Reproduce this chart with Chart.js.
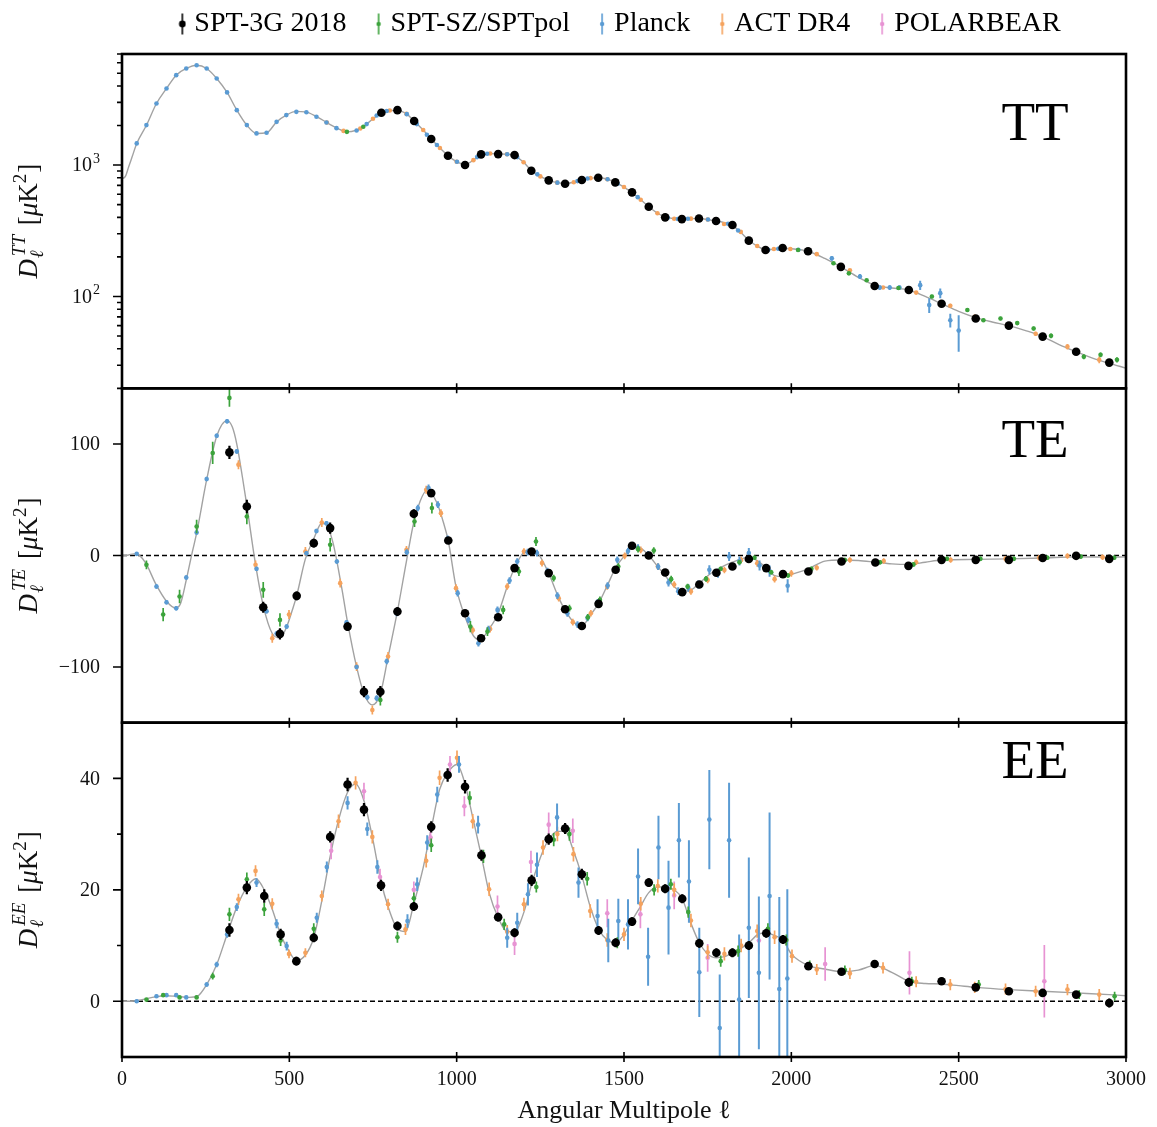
<!DOCTYPE html>
<html lang="en">
<head>
<meta charset="utf-8">
<title>CMB power spectra: TT, TE, EE</title>
<script src="https://cdn.jsdelivr.net/npm/chart.js@4.4.1/dist/chart.umd.min.js"></script>
<style>
  html, body { margin: 0; padding: 0; background: #ffffff; }
  #plot { display: block; }
</style>
</head>
<body>
<canvas id="plot" width="1157" height="1127"></canvas>
<script>
const SERIF = '"Liberation Serif", "Times New Roman", serif';

// ---------------- axes ----------------
const ellRange = [0, 3000];
const ellTicks = [0, 500, 1000, 1500, 2000, 2500, 3000];

const ttRange = [20, 7000];
const ttMajorTicks = [100, 1000];
const ttMinorTicks = [20, 30, 40, 50, 60, 70, 80, 90, 200, 300, 400, 500, 600, 700, 800, 900,
                      2000, 3000, 4000, 5000, 6000, 7000];
const ttTickLabels = {100: ['10', '2'], 1000: ['10', '3']};

const teRange = [-150, 150];
const teMajorTicks = [-100, 0, 100];
const teMinorTicks = [];

const eeRange = [-10, 50];
const eeMajorTicks = [0, 20, 40];
const eeMinorTicks = [10, 30];

// ---------------- best-fit model curves [ell, D_ell] ----------------
const theoryTT = [
  [2,790],[10,820],[20,970],[30,1150],[44,1460],[73,2010],[103,2940],[133,3830],[162,4830],[192,5430],
  [223,5750],[253,5430],[283,4560],[314,3570],[343,2620],[373,2010],[402,1740],[432,1760],[462,2130],
  [491,2400],[521,2560],[548,2540],[580,2350],[620,2050],[650,1870],[672,1790],[700,1840],[721,1955],
  [750,2250],[775,2480],[800,2600],[823,2600],[850,2450],[873,2160],[900,1850],[924,1580],[950,1350],
  [974,1180],[1000,1060],[1025,1010],[1050,1090],[1073,1190],[1100,1225],[1124,1215],[1150,1210],
  [1173,1180],[1200,1050],[1223,910],[1250,820],[1275,765],[1300,735],[1324,725],[1350,740],[1374,769],
  [1400,795],[1423,800],[1450,780],[1474,738],[1500,680],[1524,615],[1550,545],[1574,482],[1600,430],
  [1623,403],[1650,390],[1673,388],[1700,391],[1724,392],[1750,385],[1775,375],[1800,365],[1824,348],
  [1850,305],[1873,268],[1900,240],[1923,228],[1950,229],[1974,233],[2000,231],[2050,221],[2100,195],
  [2148,168],[2200,140],[2249,122],[2300,116],[2351,112],[2400,100],[2449,88],[2500,77],[2551,69],
  [2600,64],[2650,60],[2700,55],[2751,49.5],[2800,43],[2851,38],[2900,34],[2950,31],[3000,28.5]
];
const theoryTE = [
  [2,0],[20,0.5],[35,1.5],[50,0.5],[73,-8],[100,-25],[133,-41],[160,-47],[175,-43],[192,-22],[210,3],
  [223,20],[253,68],[283,107],[314,121],[330,115],[343,100],[360,70],[373,45],[399,-8],[422,-45],
  [449,-70],[472,-74],[492,-64],[510,-48],[522,-36],[548,-3],[573,15],[597,29],[612,27],[630,12],
  [642,-5],[660,-35],[674,-60],[701,-100],[723,-124],[748,-134],[772,-124],[795,-91],[823,-50],
  [850,-5],[872,30],[890,48],[909,58],[924,56],[944,45],[960,30],[975,13],[998,-28],[1025,-55],
  [1050,-72],[1070,-76],[1092,-68],[1124,-52],[1151,-28],[1173,-11],[1201,3],[1224,5],[1245,1],
  [1275,-16],[1305,-38],[1324,-49],[1350,-60],[1374,-63],[1401,-53],[1424,-43],[1450,-27],[1475,-11],
  [1502,0],[1524,7],[1545,7],[1574,0],[1601,-10],[1623,-18],[1650,-28],[1674,-32],[1700,-31],
  [1725,-25],[1755,-17],[1776,-13],[1800,-9],[1824,-6],[1850,-3],[1873,-1.5],[1900,-5],[1925,-11],
  [1950,-18],[1975,-19],[2000,-17],[2051,-12],[2100,-5],[2150,-4],[2200,-4.5],[2251,-6],[2300,-7.5],
  [2350,-8],[2400,-6],[2449,-4],[2551,-3.5],[2650,-3],[2751,-2.2],[2851,-1.2],[2950,-1.5],[3000,-1.2]
];
const theoryEE = [
  [2,0],[30,0],[60,0.3],[100,0.8],[130,1.0],[160,0.9],[200,0.7],[225,0.9],[253,3],[283,6.6],[314,12],
  [343,16.9],[373,20.5],[400,22],[425,20],[449,16.5],[474,12],[499,9],[521,7.3],[548,8.3],[573,11.4],
  [597,18],[622,26],[647,32.5],[674,37.5],[698,39],[723,36],[748,29.5],[774,21.5],[795,17],[823,13],
  [847,12.5],[872,17.5],[900,24],[924,31],[949,38],[973,41],[1001,42.5],[1025,39],[1048,33],[1074,26],
  [1097,19.5],[1124,15],[1151,12.5],[1173,12.5],[1201,16],[1224,21],[1258,27],[1275,29],[1300,30.5],
  [1324,30.5],[1349,27],[1374,22.5],[1399,17],[1424,13],[1450,11],[1475,10.5],[1500,12],[1524,14.5],
  [1549,17],[1574,19.5],[1601,20.5],[1623,20.5],[1650,20],[1674,18.4],[1700,14],[1725,10.5],[1750,8.5],
  [1776,7.8],[1800,8],[1824,8.7],[1850,9.5],[1873,10.5],[1900,12],[1925,12.3],[1950,11.8],[1975,11],
  [2000,8.5],[2051,6.4],[2100,5.8],[2150,5.3],[2200,5.6],[2249,6.4],[2300,5.2],[2351,3.6],[2400,3.2],
  [2449,3.1],[2500,2.8],[2551,2.5],[2650,2.1],[2751,1.8],[2851,1.5],[2950,1.2],[3000,1.0]
];

// ---------------- band powers [ell, D_ell, sigma] ----------------
const spt3gTT = [
  [775,2500,45],[823,2618,45],[873,2163,38],[924,1578,28],[974,1177,20],[1025,1000,17],[1073,1206,18],
  [1124,1212,17],[1173,1191,16],[1223,905,13],[1275,765,11],[1324,721,10],[1374,769,10],[1423,800,10],
  [1474,738,9],[1524,620,8],[1574,482,7],[1623,400,6],[1673,388,6],[1724,392,6],[1775,375,5],
  [1824,350,5],[1873,266,4],[1923,226,4],[1974,234,4],[2050,221,3],[2148,168,3],[2249,120,2],
  [2351,112,2],[2449,88,2],[2551,68,1.5],[2650,60,1.5],[2751,49.5,1.5],[2851,38,1.5],[2950,31.4,1.5]
];
const spt3gTE = [
  [321,92.5,6],[373,44,6],[422,-46.4,5],[472,-70.3,5],[522,-36.2,4],[573,11.1,4],[622,24.6,5],
  [674,-63.8,4],[723,-122.2,5],[772,-122.2,5],[823,-50.3,4],[872,37.5,4],[924,56,3],[975,13.5,3],
  [1025,-51.8,3],[1073,-74.2,3],[1124,-55.4,3],[1173,-11.3,2.5],[1224,3.6,2.5],[1275,-15.8,2.5],
  [1324,-48.2,2.5],[1374,-63.2,2.5],[1424,-43.4,2.5],[1475,-12.8,2],[1524,8.7,2],[1574,0,2],
  [1623,-15.3,2],[1674,-32.9,2],[1725,-26,2],[1776,-15.5,2],[1824,-9.9,2],[1873,-3.2,2],
  [1925,-11.3,2],[1975,-16.7,2],[2051,-14.4,1.5],[2150,-5.4,1.5],[2251,-6.3,1.5],[2350,-9.3,1.5],
  [2449,-3.9,1.5],[2551,-3.9,1.5],[2650,-3.9,1.5],[2751,-2.3,1.5],[2851,-0.3,1.5],[2950,-3,1.5]
];
const spt3gEE = [
  [321,12.8,1.2],[373,20.4,1.2],[425,18.9,1.2],[474,12,1],[521,7.2,0.8],[573,11.4,0.8],[622,29.5,1],
  [674,38.9,1.2],[723,34.4,1.2],[774,20.8,1],[823,13.5,0.8],[872,17,0.8],[924,31.3,1],[973,40.6,1.2],
  [1025,38.5,1.2],[1074,26.2,1],[1124,15.1,0.8],[1173,12.3,0.8],[1224,21.7,1],[1275,29.1,1],
  [1324,31,1],[1374,22.8,1],[1424,12.7,0.8],[1475,10.5,0.8],[1524,14.3,0.8],[1574,21.3,0.8],
  [1623,20.2,0.8],[1674,18.4,0.8],[1725,10.4,0.8],[1776,8.7,0.8],[1824,8.7,0.8],[1873,10,0.8],
  [1925,12.2,0.8],[1975,11.1,0.8],[2051,6.3,0.6],[2150,5.3,0.6],[2249,6.7,0.6],[2351,3.4,0.8],
  [2449,3.6,0.6],[2551,2.5,0.6],[2650,1.8,0.6],[2751,1.5,0.6],[2851,1.2,0.6],[2950,-0.3,0.8]
];

const sptpolTT = [
  [672,1790,28],[721,1955,28],[1022,1000,15],[1475,738,10],[1925,228,5],[2020,226,5],[2126,179,4],
  [2172,150,4],[2225,133,3],[2320,116,3],[2420,100,3],[2526,79,2.5],[2574,66,2],[2625,68,2],
  [2675,62.7,2],[2724,57,2],[2776,50.2,2],[2874,34.8,1.5],[2924,36,1.5],[2973,33,1.5]
];
const sptpolTE = [
  [73,-8.4,4],[123,-53,6],[172,-36.8,6],[223,26,6],[271,92,10],[321,141.4,8],[373,35,7],[422,-30.8,7],
  [472,-57.8,6],[622,9.6,6],[772,-129.6,5],[874,30.5,5],[926,42.6,5],[1041,-63.8,5],[1092,-68.3,4],
  [1139,-48.8,4],[1186,-14.4,4],[1237,12.6,4],[1290,-20.3,3],[1337,-47.3,3],[1392,-55.4,3],
  [1428,-39.8,3],[1483,-9.9,3],[1542,5.7,3],[1589,4.5,3],[1641,-21.2,3],[1690,-27.8,2.5],
  [1745,-21,2.5],[1789,-12,2],[1845,-6,2],[1890,-2,2],[1940,-15,2],[1990,-18,2],[2060,-12,2],
  [2160,-4,2],[2265,-6,2],[2365,-8,2],[2465,-3,2],[2565,-3,2],[2665,-3,2],[2765,-2,2],[2865,-1,2],
  [2965,-2,2]
];
const sptpolEE = [
  [73,0.3,0.3],[123,1.1,0.3],[172,0.7,0.3],[223,0.7,0.3],[271,4.5,0.6],[321,15.6,1.2],[373,21.9,1.2],
  [425,16.5,1.2],[474,10.9,1],[573,13,1],[823,11.5,1],[872,18.5,1],[924,28,1.2],[1039,36.5,1.2],
  [1080,26,1.2],[1142,13.8,1],[1238,20.5,1],[1290,29,1.2],[1337,30,1.2],[1390,22,1.2],[1480,10.5,1],
  [1590,20,1],[1640,21,1],[1692,16,1],[1789,7.2,1],[1841,9,1],[1930,13,1],[1985,11,1],[2055,6.5,0.8],
  [2160,5.6,0.8],[2360,3.6,0.8],[2560,3,0.8],[2860,1.2,0.8],[2966,0.9,0.8]
];

const planckTT = [
  [44,1462,40],[73,2014,45],[103,2942,55],[133,3828,60],[162,4831,65],[192,5433,70],[223,5754,70],
  [253,5433,65],[283,4560,55],[314,3573,45],[343,2618,38],[373,2014,32],[402,1741,28],[432,1760,26],
  [462,2133,28],[491,2399,30],[521,2540,30],[551,2520,30],[581,2330,28],[611,2110,26],[641,1910,24],
  [701,1830,22],[731,2050,24],[761,2380,26],[791,2580,28],[851,2440,28],[881,2050,24],[911,1700,22],
  [941,1420,20],[1001,1060,16],[1061,1150,16],[1091,1220,16],[1151,1210,16],[1181,1150,15],
  [1241,850,13],[1301,735,11],[1361,755,11],[1391,790,11],[1451,780,11],[1481,720,10],[1541,570,9],
  [1571,490,8],[1631,398,7],[1661,389,7],[1691,390,7],[1751,385,7],[1781,372,7],[1811,358,7],
  [1841,318,7],[1871,270,6],[1931,227,6],[1961,231,6],[2021,227,6],[2051,220,6],[2121,195,8],
  [2205,142,6],[2264,117,5],[2294,117,5],[2323,117,5],[2385,122,10],[2412,86,11],[2445,106,9],
  [2475,66,8],[2500,55,17]
];
const planckTE = [
  [44,1.5,1],[103,-27.8,2],[133,-42,2],[162,-47.3,2],[192,-19.8,2],[223,20.7,2],[253,68.6,2],
  [283,107.5,2],[314,120.4,2],[343,93.4,2],[373,45,2],[402,-12,2],[432,-50,2],[462,-70,2],
  [492,-63.8,2],[521,-38,2],[551,2,2],[581,22,2],[611,29,2],[642,-5.4,2],[671,-60,2],[701,-100,2],
  [733,-127.2,2.5],[761,-128,2.5],[791,-95,2.5],[821,-52,2.5],[851,3,2.5],[884,42.6,3],[916,60.6,3],
  [944,45.6,3],[973,15,3],[1003,-33.8,3],[1035,-57.8,3],[1065,-78.7,3],[1095,-66,3],[1122,-48.8,3],
  [1158,-22.5,3],[1181,-5.4,3],[1212,3,3],[1240,2.2,3],[1271,-14,3],[1301,-36,3],[1331,-52,3],
  [1361,-62,3],[1391,-56,3],[1421,-42,3],[1451,-27,3],[1480,-3.9,3],[1512,4,3],[1542,7,3],[1572,1,3],
  [1602,-10,3],[1633,-24.3,3.5],[1662,-32,3.5],[1692,-29,3.5],[1722,-26,3.5],[1755,-12.8,4],
  [1781,-16,4],[1814,-0.9,4],[1845,-5,4],[1873,2.2,4.5],[1905,-9,4.5],[1935,-14,5],[1989,-27.2,6]
];
const planckEE = [
  [44,0,0.3],[103,0.9,0.3],[133,1.1,0.3],[162,1.1,0.3],[192,0.7,0.3],[253,3,0.4],[283,6.6,0.5],
  [314,12,0.6],[343,16.9,0.7],[402,21.3,0.8],[462,13.9,0.8],[492,9.9,0.8],[582,15,0.9],[612,24.1,1],
  [674,35.6,1.2],[733,30.9,1.2],[763,24.1,1.2],[853,14.4,1.2],[882,21,1.2],[912,28.5,1.3],
  [942,37.1,1.4],[1007,42.5,1.5],[1064,31.7,1.6],[1151,11.4,1.8],[1181,14.1,1.8],[1213,19.2,2],
  [1240,24.5,2.2],[1300,33,2.5],[1364,21.3,2.7],[1421,15.3,3],[1453,10.9,3.9],[1483,14.4,4],
  [1512,13.8,4.5],[1542,22.4,5],[1572,8,5.2],[1603,27.6,5.7],[1633,16.8,8.4],[1664,28.9,6.7],
  [1694,21.5,7.4],[1725,5.2,8],[1755,32.6,8.9],[1786,-4.8,9.6],[1814,28.9,10.3],[1844,0.3,11.7],
  [1873,13.2,12.6],[1903,5.1,13.7],[1935,18.9,15],[1964,2.2,16.5],[1988,4.1,16]
];

const actTT = [
  [612,2110,30],[662,1820,26],[712,1900,26],[750,2250,28],[800,2600,30],[850,2450,28],[900,1850,22],
  [950,1350,18],[1000,1060,15],[1050,1090,15],[1100,1225,15],[1150,1210,15],[1200,1050,13],
  [1250,820,11],[1300,735,10],[1350,740,10],[1400,795,10],[1450,780,10],[1500,680,9],[1550,545,8],
  [1600,430,7],[1650,390,6],[1700,391,6],[1750,385,6],[1799,356,6],[1849,310,6],[1898,242,5],
  [1948,230,5],[1997,230,5],[2076,210,4],[2175,158,4],[2274,117,3],[2373,107,3],[2475,85,3],
  [2548,70,2.5],[2645,60.4,2.5],[2730,52,2],[2825,41.5,2],[2920,33,2]
];
const actTE = [
  [348,81.5,4],[399,-8.4,4],[449,-74.2,4],[499,-53,4],[548,3.6,4],[597,29.6,4],[652,-24.8,4],
  [701,-99.7,4],[748,-138.6,4],[795,-90.7,4],[850,5.1,3.5],[909,59,3.5],[953,38,3.5],[998,-29.3,3.5],
  [1048,-67,3],[1100,-66,3],[1151,-27.8,3],[1201,3.6,3],[1255,-6.8,3],[1305,-38.3,3],[1347,-59.8,3],
  [1401,-51.8,3],[1450,-27.8,3],[1502,-0.3,3],[1550,5,3],[1601,-9.9,3],[1650,-26,3],[1700,-32.3,3],
  [1750,-22,3],[1800,-13,3],[1850,-4,3],[1898,-7,3],[1950,-21.2,3],[2000,-16,3],[2076,-11,2.5],
  [2175,-4,2.5],[2276,-5,2.5],[2373,-6,2.5],[2476,-4,2.5],[2548,-4,2.5],[2640,-3,2.5],[2740,-2,2.5],
  [2825,-0.5,2.5],[2930,-1.5,2.5]
];
const actEE = [
  [348,18.3,1],[399,23.4,1],[449,17.5,1],[499,8.5,0.8],[548,8.7,0.8],[597,18.9,1],[647,32.3,1.2],
  [698,39.2,1.2],[748,29.5,1.2],[795,17.4,1],[847,12.9,1],[909,25.2,1.2],[949,40.1,1.3],
  [1001,43.7,1.3],[1048,32.3,1.3],[1097,20.1,1.2],[1151,12.5,1.2],[1201,17.4,1.2],[1258,27.6,1.3],
  [1301,30,1.3],[1349,26.4,1.3],[1399,16.2,1.2],[1450,11,1.2],[1500,12,1.2],[1550,17.5,1.2],
  [1601,20.7,1.2],[1650,20,1.2],[1700,14.5,1.2],[1750,8.8,1.2],[1800,8.5,1.2],[1850,10,1.2],
  [1898,12.6,1.2],[1950,11.5,1.2],[2002,8.1,1.2],[2076,5.7,1],[2175,5,1],[2274,6,1],[2373,3.5,1],
  [2475,3,1],[2548,2.5,1],[2640,2.2,1],[2730,1.8,1],[2825,2.1,1],[2920,1.2,1]
];

const polarbearEE = [
  [625,27,1.5],[723,37.7,1.5],[771,22.3,1.5],[872,20,1.5],[922,29.4,1.5],[980,42.5,1.5],[1023,35,1.8],
  [1122,17,2],[1173,10.3,2],[1222,25,2],[1275,31.7,2.2],[1347,30.6,2.2],[1450,15.8,2.5],
  [1549,15.6,2.5],[1650,19,2.5],[1750,7.8,2.5],[1903,10.9,2.5],[2101,6.7,3],[2353,5.1,3.9],
  [2756,3.6,6.5]
];

// ---------------- styling ----------------
const experiments = [
  {name: 'SPT-3G 2018',   color: '#000000', radius: 4.3, barWidth: 2.2, legendDot: 3.4,
   sets: {TT: spt3gTT, TE: spt3gTE, EE: spt3gEE}},
  {name: 'SPT-SZ/SPTpol', color: '#3ca33c', radius: 2.3, barWidth: 1.7, legendDot: 2.2,
   sets: {TT: sptpolTT, TE: sptpolTE, EE: sptpolEE}},
  {name: 'Planck',        color: '#5a9bd3', radius: 2.3, barWidth: 2.0, legendDot: 2.2,
   sets: {TT: planckTT, TE: planckTE, EE: planckEE}},
  {name: 'ACT DR4',       color: '#f5a35e', radius: 2.3, barWidth: 1.7, legendDot: 2.2,
   sets: {TT: actTT, TE: actTE, EE: actEE}},
  {name: 'POLARBEAR',     color: '#e793d3', radius: 2.3, barWidth: 1.7, legendDot: 2.2,
   sets: {EE: polarbearEE}}
];

const fmtSigned = v => (v < 0 ? '\u2212' + Math.abs(v) : String(v));
const panels = [
  {key: 'TT', axis: 'yTT', theory: theoryTT, major: ttMajorTicks, minor: ttMinorTicks, tagDrop: 86,
   label: v => ttTickLabels[v]},
  {key: 'TE', axis: 'yTE', theory: theoryTE, major: teMajorTicks, minor: teMinorTicks, tagDrop: 69,
   label: v => [fmtSigned(v)]},
  {key: 'EE', axis: 'yEE', theory: theoryEE, major: eeMajorTicks, minor: eeMinorTicks, tagDrop: 55,
   label: v => [fmtSigned(v)]}
];

const toPoints = rows => rows.map(r => ({x: r[0], y: r[1], e: r[2] || 0}));

// ---------------- datasets ----------------
const datasets = [];
const legendIndex = [];
experiments.forEach(exp => {
  let first = -1;
  panels.forEach(p => {
    const rows = exp.sets[p.key];
    if (!rows) return;
    if (first < 0) first = datasets.length;
    datasets.push({
      label: exp.name + ' ' + p.key,
      data: toPoints(rows),
      yAxisID: p.axis,
      xAxisID: 'x',
      showLine: false,
      pointRadius: exp.radius,
      pointBorderWidth: 0,
      pointBackgroundColor: exp.color,
      pointBorderColor: exp.color,
      errorColor: exp.color,
      errorWidth: exp.barWidth
    });
  });
  legendIndex.push(first);
});
panels.forEach(p => {
  datasets.push({
    label: 'model ' + p.key,
    data: toPoints(p.theory),
    yAxisID: p.axis,
    xAxisID: 'x',
    showLine: true,
    pointRadius: 0,
    borderColor: '#a2a2a2',
    borderWidth: 1.4,
    cubicInterpolationMode: 'monotone'
  });
});

// legend glyph: errorbar with a dot
function legendGlyph(exp) {
  const c = document.createElement('canvas');
  c.width = 32; c.height = 24;
  const g = c.getContext('2d');
  g.strokeStyle = exp.color;
  g.fillStyle = exp.color;
  g.lineWidth = 1.6;
  g.beginPath(); g.moveTo(28, 1.5); g.lineTo(28, 22.5); g.stroke();
  g.beginPath(); g.arc(28, 12, exp.legendDot, 0, Math.PI * 2); g.fill();
  return c;
}

// ---------------- plugins ----------------
const errorBars = {
  id: 'errorBars',
  beforeDatasetDraw(chart, args) {
    const ds = chart.data.datasets[args.index];
    if (!ds.errorWidth) return;
    const xs = args.meta.xScale, ys = args.meta.yScale;
    const ctx = chart.ctx;
    ctx.save();
    ctx.beginPath();
    ctx.rect(xs.left, ys.top, xs.right - xs.left, ys.bottom - ys.top);
    ctx.clip();
    ctx.strokeStyle = ds.errorColor;
    ctx.lineWidth = ds.errorWidth;
    ctx.beginPath();
    ds.data.forEach(p => {
      if (!p.e) return;
      const x = xs.getPixelForValue(p.x);
      ctx.moveTo(x, ys.getPixelForValue(p.y - p.e));
      ctx.lineTo(x, ys.getPixelForValue(p.y + p.e));
    });
    ctx.stroke();
    ctx.restore();
  }
};

function drawPowerLabel(ctx, cx, cy, sup) {
  const big = 27, small = 19;
  const it = s => `italic ${s}px ${SERIF}`;
  const rm = s => `${s}px ${SERIF}`;
  const w = (t, f) => { ctx.font = f; return ctx.measureText(t).width; };
  ctx.save();
  ctx.translate(cx, cy);
  ctx.rotate(-Math.PI / 2);
  ctx.fillStyle = '#111';
  ctx.textBaseline = 'alphabetic';
  ctx.textAlign = 'left';
  const wD = w('D', it(big));
  const wScript = Math.max(w('ℓ', it(small)), w(sup, it(small)) + 2) + 3;
  const wOpen = w(' [', rm(big));
  const wMu = w('μ', it(big));
  const wK = w('K', rm(big));
  const w2 = w('2', rm(small));
  const wClose = w(']', rm(big));
  const total = wD + 1 + wScript + wOpen + wMu + wK + w2 + 1 + wClose;
  let x = -total / 2;
  ctx.font = it(big); ctx.fillText('D', x, 0); x += wD + 1;
  ctx.font = it(small); ctx.fillText('ℓ', x, 6); ctx.fillText(sup, x + 2, -12); x += wScript;
  ctx.font = rm(big); ctx.fillText(' [', x, 0); x += wOpen;
  ctx.font = it(big); ctx.fillText('μ', x, 0); x += wMu;
  ctx.font = rm(big); ctx.fillText('K', x, 0); x += wK;
  ctx.font = rm(small); ctx.fillText('2', x, -11); x += w2 + 1;
  ctx.font = rm(big); ctx.fillText(']', x, 0);
  ctx.restore();
}

// tick label with an optional raised exponent, right-aligned at xr
function drawTickLabel(ctx, parts, xr, y) {
  const base = `20px ${SERIF}`, expo = `14px ${SERIF}`;
  ctx.textBaseline = 'middle';
  ctx.textAlign = 'left';
  ctx.font = base;
  const wb = ctx.measureText(parts[0]).width;
  let we = 0;
  if (parts[1]) { ctx.font = expo; we = ctx.measureText(parts[1]).width + 1; }
  ctx.font = base;
  ctx.fillText(parts[0], xr - we - wb, y + 1);
  if (parts[1]) { ctx.font = expo; ctx.fillText(parts[1], xr - we + 1, y - 6); }
}

const panelDecor = {
  id: 'panelDecor',
  beforeDatasetsDraw(chart) {
    const {ctx, chartArea} = chart;
    ['yTE', 'yEE'].forEach(id => {
      const y = chart.scales[id].getPixelForValue(0);
      ctx.save();
      ctx.setLineDash([5, 3]);
      ctx.lineWidth = 1.4;
      ctx.strokeStyle = '#000';
      ctx.beginPath();
      ctx.moveTo(chartArea.left, y);
      ctx.lineTo(chartArea.right, y);
      ctx.stroke();
      ctx.restore();
    });
  },
  afterDraw(chart) {
    const {ctx, chartArea} = chart;
    const xs = chart.scales.x;
    ctx.save();
    panels.forEach(p => {
      const s = chart.scales[p.axis];
      // y tick marks, pointing outwards, with labels on the major ones
      ctx.strokeStyle = '#000';
      ctx.lineWidth = 1.6;
      ctx.beginPath();
      p.major.forEach(v => {
        const y = s.getPixelForValue(v);
        ctx.moveTo(chartArea.left - 9, y); ctx.lineTo(chartArea.left, y);
      });
      p.minor.forEach(v => {
        const y = s.getPixelForValue(v);
        ctx.moveTo(chartArea.left - 5, y); ctx.lineTo(chartArea.left, y);
      });
      ctx.stroke();
      ctx.fillStyle = '#111';
      p.major.forEach(v => drawTickLabel(ctx, p.label(v), chartArea.left - 22, s.getPixelForValue(v)));
      // multipole ticks crossing the lower edge of each panel
      ctx.beginPath();
      ellTicks.forEach(v => {
        const x = xs.getPixelForValue(v);
        ctx.moveTo(x, s.bottom - 5); ctx.lineTo(x, s.bottom + 5);
      });
      ctx.stroke();
      // frame
      ctx.lineWidth = 2.6;
      ctx.strokeRect(chartArea.left, s.top, chartArea.right - chartArea.left, s.bottom - s.top);
      // spectrum tag
      ctx.fillStyle = '#000';
      ctx.font = `55px ${SERIF}`;
      ctx.textAlign = 'center';
      ctx.textBaseline = 'alphabetic';
      ctx.fillText(p.key, 1035, s.top + p.tagDrop);
      // axis label
      drawPowerLabel(ctx, 37, (s.top + s.bottom) / 2, p.key);
    });
    ctx.restore();
  }
};

// ---------------- scales ----------------
const tickFont = {family: SERIF, size: 20};
function powerAxis(p, opts) {
  return Object.assign({
    position: 'left',
    stack: 'spectra',
    stackWeight: 1,
    ticks: {display: false},
    grid: {display: false, drawTicks: false},
    border: {display: false},
    afterBuildTicks: s => {
      s.ticks = p.major.concat(p.minor).sort((a, b) => a - b).map(v => ({value: v}));
    },
    afterFit: s => { s.width = 34; }
  }, opts);
}

const scales = {
  x: {
    type: 'linear', position: 'bottom', min: ellRange[0], max: ellRange[1],
    afterBuildTicks: s => { s.ticks = ellTicks.map(v => ({value: v})); },
    ticks: {font: tickFont, color: '#111', padding: 11, maxRotation: 0, autoSkip: false,
            callback: v => String(v)},
    grid: {display: false, drawTicks: false},
    border: {display: false},
    title: {display: true, text: 'Angular Multipole ℓ', color: '#111',
            font: {family: SERIF, size: 26}, padding: {top: 4, bottom: 0}},
    afterFit: s => { s.height = 70; }
  },
  gap: {
    type: 'linear', position: 'top', min: 0, max: 1,
    ticks: {display: false}, grid: {display: false, drawTicks: false}, border: {display: false},
    afterFit: s => { s.height = 6; }
  },
  yEE: powerAxis(panels[2], {type: 'linear', weight: 1, min: eeRange[0], max: eeRange[1]}),
  yTE: powerAxis(panels[1], {type: 'linear', weight: 2, min: teRange[0], max: teRange[1]}),
  yTT: powerAxis(panels[0], {type: 'logarithmic', weight: 3, min: ttRange[0], max: ttRange[1]})
};

new Chart(document.getElementById('plot'), {
  type: 'scatter',
  data: {datasets},
  options: {
    responsive: false,
    devicePixelRatio: 1,
    animation: false,
    events: [],
    layout: {padding: {left: 88, right: 24, top: 0, bottom: 0}},
    scales,
    plugins: {
      tooltip: {enabled: false},
      legend: {
        display: true,
        position: 'top',
        align: 'center',
        fullSize: true,
        labels: {
          usePointStyle: true,
          boxWidth: 20,
          boxHeight: 28,
          padding: 10,
          color: '#000',
          font: {family: SERIF, size: 28},
          generateLabels: () => experiments.map((exp, i) => ({
            text: exp.name,
            pointStyle: legendGlyph(exp),
            fillStyle: exp.color,
            strokeStyle: exp.color,
            fontColor: '#000',
            lineWidth: 0,
            hidden: false,
            datasetIndex: legendIndex[i]
          }))
        }
      }
    }
  },
  plugins: [errorBars, panelDecor]
});
</script>
</body>
</html>
